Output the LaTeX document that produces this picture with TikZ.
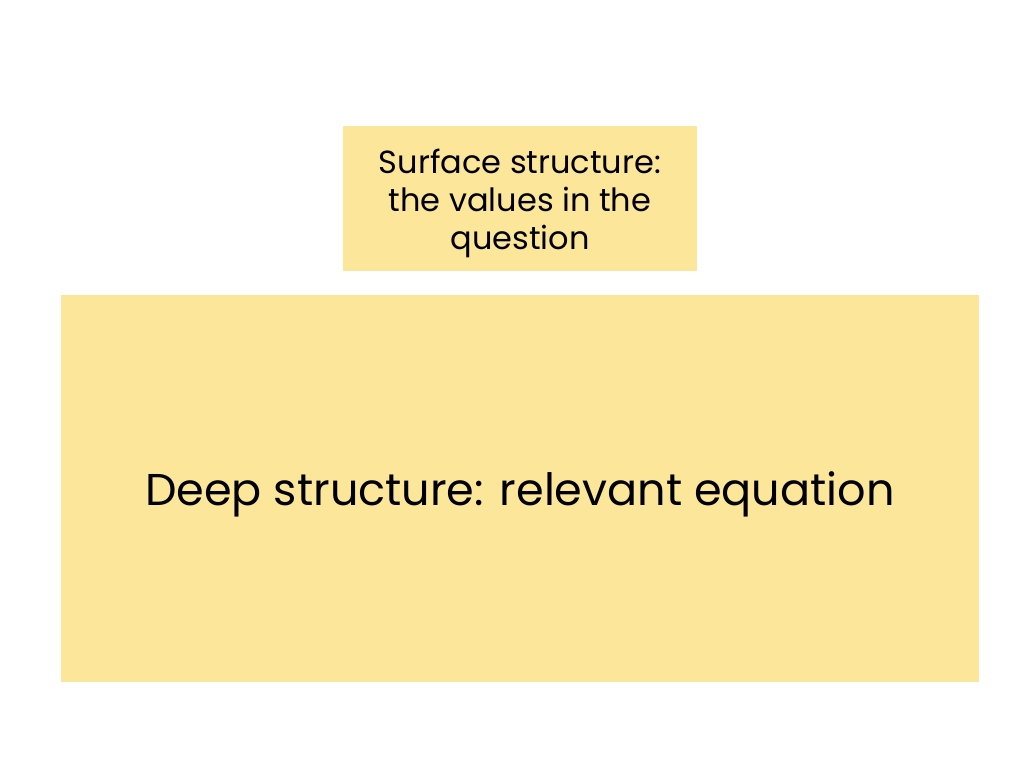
\documentclass[tikz,border=0pt]{standalone}
\usepackage{fontspec}
\setmainfont{Poppins}
\definecolor{boxyellow}{HTML}{FCE699}
\begin{document}
\begin{tikzpicture}[x=0.75pt,y=-0.75pt,
  box/.style={fill=boxyellow,draw=none,inner sep=0pt},
  txt/.style={align=center,inner sep=0pt,text=black}]
\useasboundingbox (0,0) rectangle (1024,768);
\fill[white] (0,0) rectangle (1024,768);
\node[box,minimum width=354*0.75pt,minimum height=145*0.75pt] (surface) at (520,198.5) {};
\node[box,minimum width=918*0.75pt,minimum height=387*0.75pt] (deep) at (520,488.5) {};
\node[txt,font=\fontsize{24}{28.5}\selectfont] (surfacetext) at (520,203) {Surface structure:\\the values in the\\question};
\node[txt,anchor=base,font=\fontsize{33.4}{40}\selectfont] (deeptext) at (520,505) {Deep structure: relevant equation};
\end{tikzpicture}
\end{document}
